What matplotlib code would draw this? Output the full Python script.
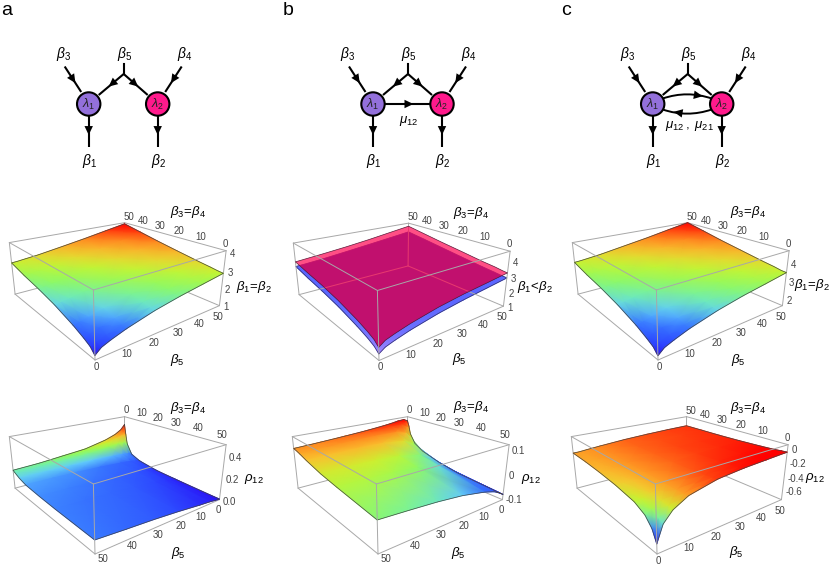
import matplotlib
matplotlib.use('Agg')
import matplotlib.pyplot as plt
import numpy as np
from matplotlib.colors import LinearSegmentedColormap
from matplotlib.patches import Circle, FancyArrowPatch, Polygon
from mpl_toolkits.mplot3d import proj3d

plt.rcParams['font.family'] = ['Liberation Sans', 'DejaVu Sans']
plt.rcParams['mathtext.fontset'] = 'custom'
plt.rcParams['mathtext.rm'] = 'Liberation Sans'
plt.rcParams['mathtext.it'] = 'Liberation Sans:italic'
plt.rcParams['mathtext.bf'] = 'Liberation Sans:bold'

# grid nodes of the surfaces, rows are beta3=beta4, columns are beta5
beta5_a = [0, 2, 5, 10, 20, 30, 40, 50]
beta3_a = [0, 2, 5, 10, 20, 30, 40, 50]
beta3_r = [0, 1, 2, 5, 10, 20, 30, 50]
axis_ticks = [0, 10, 20, 30, 40, 50]

beta_a = [
    [1.20, 1.45, 1.62, 1.85, 2.20, 2.45, 2.65, 2.85],
    [1.45, 1.58, 1.73, 1.93, 2.26, 2.50, 2.70, 2.88],
    [1.62, 1.73, 1.85, 2.03, 2.33, 2.57, 2.76, 2.95],
    [1.85, 1.93, 2.03, 2.20, 2.45, 2.65, 2.85, 3.05],
    [2.20, 2.26, 2.33, 2.45, 2.65, 2.85, 3.05, 3.27],
    [2.45, 2.50, 2.57, 2.65, 2.85, 3.05, 3.27, 3.50],
    [2.65, 2.70, 2.76, 2.85, 3.05, 3.27, 3.50, 3.75],
    [2.90, 2.92, 2.97, 3.05, 3.27, 3.50, 3.75, 4.00],
]
beta_b_low = [
    [1.37, 1.60, 1.76, 1.98, 2.31, 2.55, 2.74, 2.93],
    [1.60, 1.73, 1.87, 2.06, 2.37, 2.59, 2.78, 2.96],
    [1.78, 1.88, 1.99, 2.15, 2.43, 2.66, 2.84, 3.02],
    [2.00, 2.07, 2.17, 2.32, 2.55, 2.74, 2.93, 3.11],
    [2.35, 2.40, 2.47, 2.58, 2.76, 2.93, 3.11, 3.31],
    [2.60, 2.64, 2.71, 2.78, 2.95, 3.12, 3.31, 3.52],
    [2.80, 2.84, 2.90, 2.97, 3.14, 3.33, 3.52, 3.73],
    [3.04, 3.06, 3.10, 3.17, 3.35, 3.54, 3.73, 3.93],
]
beta_b_high = [
    [1.73, 1.97, 2.13, 2.35, 2.68, 2.91, 3.08, 3.26],
    [1.97, 2.10, 2.24, 2.43, 2.74, 2.96, 3.13, 3.30],
    [2.15, 2.25, 2.36, 2.52, 2.80, 3.03, 3.20, 3.38],
    [2.38, 2.45, 2.55, 2.70, 2.92, 3.11, 3.29, 3.47],
    [2.73, 2.78, 2.85, 2.96, 3.13, 3.29, 3.48, 3.70],
    [2.98, 3.02, 3.09, 3.16, 3.32, 3.49, 3.70, 3.92],
    [3.16, 3.20, 3.26, 3.34, 3.50, 3.70, 3.92, 4.16],
    [3.37, 3.40, 3.45, 3.53, 3.71, 3.92, 4.16, 4.40],
]
beta_c = [
    [1.80, 2.05, 2.22, 2.46, 2.81, 3.07, 3.27, 3.48],
    [2.05, 2.19, 2.34, 2.54, 2.88, 3.12, 3.32, 3.50],
    [2.22, 2.34, 2.46, 2.65, 2.95, 3.19, 3.39, 3.58],
    [2.46, 2.54, 2.65, 2.81, 3.07, 3.27, 3.48, 3.68],
    [2.81, 2.88, 2.95, 3.07, 3.27, 3.48, 3.68, 3.91],
    [3.07, 3.12, 3.19, 3.27, 3.48, 3.68, 3.91, 4.14],
    [3.27, 3.32, 3.39, 3.48, 3.68, 3.91, 4.14, 4.40],
    [3.52, 3.54, 3.59, 3.68, 3.91, 4.14, 4.40, 4.65],
]
rho_a = [
    [0.410, 0.360, 0.320, 0.280, 0.230, 0.210, 0.190, 0.180],
    [0.300, 0.300, 0.280, 0.250, 0.215, 0.200, 0.185, 0.172],
    [0.200, 0.220, 0.225, 0.210, 0.190, 0.180, 0.172, 0.165],
    [0.100, 0.115, 0.125, 0.130, 0.140, 0.142, 0.144, 0.145],
    [0.060, 0.070, 0.080, 0.090, 0.105, 0.115, 0.120, 0.125],
    [0.030, 0.040, 0.055, 0.070, 0.085, 0.100, 0.110, 0.115],
    [0.020, 0.030, 0.040, 0.055, 0.075, 0.090, 0.100, 0.110],
    [0.005, 0.010, 0.020, 0.030, 0.055, 0.075, 0.090, 0.107],
]
rho_b = [
    [0.095, 0.105, 0.103, 0.095, 0.085, 0.078, 0.072, 0.067],
    [0.070, 0.092, 0.098, 0.092, 0.083, 0.077, 0.071, 0.066],
    [0.035, 0.072, 0.088, 0.087, 0.080, 0.075, 0.070, 0.065],
    [-0.005, 0.025, 0.055, 0.068, 0.070, 0.068, 0.064, 0.060],
    [-0.030, -0.010, 0.018, 0.040, 0.052, 0.054, 0.052, 0.050],
    [-0.055, -0.040, -0.018, 0.005, 0.025, 0.032, 0.034, 0.034],
    [-0.070, -0.055, -0.035, -0.012, 0.010, 0.019, 0.023, 0.024],
    [-0.083, -0.070, -0.055, -0.040, -0.020, -0.008, 0.000, 0.007],
]
rho_c = [
    [-0.62, -0.42, -0.30, -0.20, -0.12, -0.09, -0.075, -0.06],
    [-0.48, -0.38, -0.28, -0.20, -0.125, -0.095, -0.08, -0.065],
    [-0.38, -0.33, -0.27, -0.20, -0.13, -0.10, -0.085, -0.075],
    [-0.31, -0.29, -0.25, -0.20, -0.14, -0.11, -0.095, -0.085],
    [-0.26, -0.25, -0.23, -0.19, -0.15, -0.125, -0.11, -0.10],
    [-0.23, -0.225, -0.21, -0.185, -0.15, -0.13, -0.12, -0.11],
    [-0.21, -0.21, -0.20, -0.18, -0.15, -0.135, -0.125, -0.115],
    [-0.20, -0.20, -0.19, -0.175, -0.15, -0.135, -0.125, -0.12],
]

rainbow = LinearSegmentedColormap.from_list('rainbow_like', [
    (0.00, '#2a10f5'), (0.10, '#2b40ff'), (0.25, '#3878ff'), (0.33, '#60c8ff'),
    (0.42, '#70f0b0'), (0.50, '#90fa60'), (0.60, '#c8f430'), (0.70, '#f8c830'),
    (0.82, '#ff8a20'), (1.00, '#ff0000')])
violet_blue = LinearSegmentedColormap.from_list('violet_blue', ['#a888ff', '#6a70ff', '#5a66ff'])

W, H = 830, 566
fig = plt.figure(figsize=(W / 100, H / 100), dpi=100)

# hidden 3d axes, only used for its camera, its size sets the scale of the boxes
cam_px = 213
cam = fig.add_axes([0.3, 0.3, cam_px / W, cam_px / H], projection='3d')
cam.set_axis_off()
cam.set_xlim(0, 1)
cam.set_ylim(0, 1)
cam.set_zlim(0, 1)
cam.set_box_aspect((1, 1, 0.38), zoom=1.0)
cam.set_proj_type('persp', focal_length=0.30)
cam.view_init(elev=21, azim=-127.5)
fig.canvas.draw()
cam_M = cam.get_proj()

ax = fig.add_axes([0, 0, 1, 1], zorder=5)
ax.set_xlim(0, W)
ax.set_ylim(H, 0)
ax.set_axis_off()
ax.patch.set_alpha(0)


def project(u, v, w):
    shape = np.broadcast(u, v, w).shape
    u, v, w = [np.broadcast_to(np.asarray(a, float), shape).ravel() for a in (u, v, w)]
    x2, y2, _ = proj3d.proj_transform(u, v, w, cam_M)
    pts = cam.transData.transform(np.c_[x2, y2])
    return pts[:, 0].reshape(shape), H - pts[:, 1].reshape(shape)


x00, y00 = project(0.0, 0.0, 0.0)


def to_px(u, v, w, anchor):
    x, y = project(u, v, w)
    return x - x00 + anchor[0], y - y00 + anchor[1]


def box_edge(p, q, anchor, z=1):
    x, y = to_px([p[0], q[0]], [p[1], q[1]], [p[2], q[2]], anchor)
    ax.plot(x, y, color='#a8a8a8', lw=0.7, zorder=z, solid_capstyle='round')


def draw_box(anchor, z_back=1, z_front=6):
    for p, q in [((0, 0, 0), (1, 0, 0)), ((0, 0, 0), (0, 1, 0)), ((1, 0, 0), (1, 1, 0)), ((0, 1, 0), (1, 1, 0)),
                 ((1, 1, 0), (1, 1, 1)), ((1, 0, 0), (1, 0, 1)), ((0, 1, 0), (0, 1, 1)),
                 ((1, 0, 1), (1, 1, 1)), ((0, 1, 1), (1, 1, 1))]:
        box_edge(p, q, anchor, z_back)
    for p, q in [((0, 0, 0), (0, 0, 1)), ((0, 0, 1), (1, 0, 1)), ((0, 0, 1), (0, 1, 1))]:
        box_edge(p, q, anchor, z_front)


def surface_px(zvals, b5, b3, zlim, flip, anchor):
    b5g, b3g = np.meshgrid(b5, b3)
    if flip:
        u, v = (50 - b5g) / 50, (50 - b3g) / 50
    else:
        u, v = b5g / 50, b3g / 50
    w = (np.array(zvals) - zlim[0]) / (zlim[1] - zlim[0])
    return to_px(u, v, w, anchor)


def outline(x, y):
    return np.r_[x[0, :], x[:, -1], x[-1, ::-1], x[::-1, 0]], np.r_[y[0, :], y[:, -1], y[-1, ::-1], y[::-1, 0]]


def draw_surface(zvals, b5, b3, zlim, flip, anchor, vmax=None):
    x, y = surface_px(zvals, b5, b3, zlim, flip, anchor)
    z = np.array(zvals)
    ax.pcolormesh(x, y, z, shading='gouraud', cmap=rainbow, vmin=z.min(), vmax=z.max() if vmax is None else vmax, zorder=3)
    ox, oy = outline(x, y)
    ax.plot(ox, oy, color='#444444', lw=0.5, zorder=4)


def draw_ticks(anchor, flip, zlim, zticks, zlabels):
    t = np.array(axis_ticks) / 50
    for tv, val in zip(t, axis_ticks):
        # beta5 along the lower right edge
        u = 1 - tv if flip else tv
        x, y = to_px(u, 0.0, 0.0, anchor)
        dx, dy = (8 - 9 * u, 5 + 5 * u) if flip else (1 - 2 * u, 7 + 4 * u)
        ax.text(x + dx, y + dy, str(val), fontsize=7, color='#444444', ha='center', va='center')
        # beta3 along the upper back right edge
        v = 1 - tv if flip else tv
        x, y = to_px(1.0, v, 1.0, anchor)
        dx, dy = (-4 + 6 * v, -10 + 3 * v) if flip else (-1 + 5 * v, -7 + v)
        ax.text(x + dx, y + dy, str(val), fontsize=7, color='#444444', ha='center', va='center')
    for zt, zl in zip(zticks, zlabels):
        x, y = to_px(1.0, 0.0, (zt - zlim[0]) / (zlim[1] - zlim[0]), anchor)
        ax.text(x + 3.5, y + 2, zl, fontsize=7, color='#444444', ha='left', va='center')


def head(p, m):
    ax.add_patch(FancyArrowPatch(p, m, arrowstyle='-|>,head_length=4,head_width=1.9', color='black', lw=0,
                                 shrinkA=0, shrinkB=0, mutation_scale=1.6, zorder=2))


def arrow(p, q, frac=0.6):
    p, q = np.array(p, float), np.array(q, float)
    ax.plot([p[0], q[0]], [p[1], q[1]], color='black', lw=1.5, zorder=2, solid_capstyle='butt')
    head(p, p + (q - p) * frac)


def diagram(x0, mode):
    cy = 104
    x1, x2 = x0, x0 + 69
    mid = x0 + 35
    arrow((x1 - 24, 66.5), (x1 - 7.5, 92), 0.65)
    arrow((x2 + 24, 66.5), (x2 + 7.5, 92), 0.65)
    ax.plot([mid, mid], [64, 74], color='black', lw=1.5, zorder=2)
    arrow((mid, 74), (x1 + 10, 95), 0.6)
    arrow((mid, 74), (x2 - 10, 95), 0.6)
    arrow((x1, cy), (x1, 147), 0.72)
    arrow((x2, cy), (x2, 147), 0.72)
    if mode == 'b':
        arrow((x1 + 10, cy), (x2 - 10, cy), 0.62)
        ax.text(mid + 1, 121, r'$\mu_{12}$', fontsize=9.5, ha='center', va='center')
    if mode == 'c':
        ax.add_patch(FancyArrowPatch((x1 + 10, 98.5), (x2 - 10, 98.5), connectionstyle='arc3,rad=-0.17', arrowstyle='-',
                                     color='black', lw=1.4, shrinkA=0, shrinkB=0, zorder=2))
        ax.add_patch(FancyArrowPatch((x2 - 10, 109.5), (x1 + 10, 109.5), connectionstyle='arc3,rad=-0.17', arrowstyle='-',
                                     color='black', lw=1.4, shrinkA=0, shrinkB=0, zorder=2))
        head((mid + 5, 94.6), (mid + 15, 96.2))
        head((mid - 5, 113.4), (mid - 14, 111.8))
        ax.text(mid + 1.5, 126, r'$\mu_{12}\,,\ \mu_{21}$', fontsize=9.5, ha='center', va='center')
    ax.add_patch(Circle((x1, cy), 11.7, fc='#9370db', ec='black', lw=1.5, zorder=3))
    ax.add_patch(Circle((x2, cy), 11.7, fc='#ff1a8c', ec='black', lw=1.5, zorder=3))
    ax.text(x1, cy, r'$\lambda_1$', fontsize=9, ha='center', va='center', zorder=4, color='#222222')
    ax.text(x2, cy, r'$\lambda_2$', fontsize=9, ha='center', va='center', zorder=4, color='#222222')
    for lab, lx, ly in [(r'$\beta_3$', x1 - 25.5, 54), (r'$\beta_5$', mid + 1, 54), (r'$\beta_4$', x2 + 26.5, 54),
                        (r'$\beta_1$', x1 + 1, 161), (r'$\beta_2$', x2 + 1, 161)]:
        ax.text(lx, ly, lab, fontsize=10, ha='center', va='center')


# top row, letters and circuit diagrams
for letter, lx in [('a', 1), ('b', 283), ('c', 561)]:
    ax.text(lx, 10.5, letter, fontsize=14, ha='left', va='center')
diagram(88.7, 'a')
diagram(373, 'b')
diagram(652.7, 'c')

# middle row
anchor = (95, 360)
zl = (0.98, 4.08)
draw_box(anchor)
draw_surface(beta_a, beta5_a, beta3_a, zl, False, anchor)
draw_ticks(anchor, False, zl, [1, 2, 3, 4], ['1', '2', '3', '4'])

anchor = (379, 360.5)
zl = (1.0, 4.65)
xl, yl = surface_px(beta_b_low, beta5_a, beta3_a, zl, False, anchor)
ax.pcolormesh(xl, yl, np.array(beta_b_low), shading='gouraud', cmap=violet_blue, vmin=1.37, vmax=2.6, zorder=1.5)
olx, oly = outline(xl, yl)
ax.plot(olx, oly, color='#333366', lw=0.5, zorder=1.6)
xh, yh = surface_px(beta_b_high, beta5_a, beta3_a, zl, False, anchor)
ox, oy = outline(xh, yh)
# where the two sheets overlap the colour is much darker
dark = Polygon(np.c_[olx, oly], closed=True, fc='#140eaa', ec='none', zorder=1.8)
ax.add_patch(dark)
dark.set_clip_path(Polygon(np.c_[ox, oy], closed=True, transform=ax.transData))
draw_box(anchor, z_back=2)
ax.add_patch(Polygon(np.c_[ox, oy], closed=True, fc='#ff125a', ec='none', alpha=0.74, zorder=3))
ax.plot(ox, oy, color='#5a1838', lw=0.5, zorder=4)
draw_ticks(anchor, False, zl, [1, 2, 3, 4], ['1', '2', '3', '4'])

anchor = (658, 360)
zl = (1.6, 4.65)
draw_box(anchor)
draw_surface(beta_c, beta5_a, beta3_a, zl, False, anchor)
draw_ticks(anchor, False, zl, [2, 3, 4], ['2', '3', '4'])

# bottom row
anchor = (95, 554)
zl = (0.0, 0.5)
draw_box(anchor)
draw_surface(rho_a, beta5_a, beta3_r, zl, True, anchor)
draw_ticks(anchor, True, zl, [0.0, 0.2, 0.4], ['0.0', '0.2', '0.4'])

anchor = (378, 554)
zl = (-0.105, 0.116)
draw_box(anchor)
draw_surface(rho_b, beta5_a, beta3_r, zl, True, anchor)
draw_ticks(anchor, True, zl, [-0.1, 0.0, 0.1], ['-0.1', '0', '0.1'])

anchor = (657, 554)
zl = (-0.74, 0.04)
draw_box(anchor)
draw_surface(rho_c, beta5_a, beta3_a, zl, False, anchor, vmax=-0.08)
draw_ticks(anchor, False, zl, [0.0, -0.2, -0.4, -0.6], ['0', '-0.2', '-0.4', '-0.6'])

# axis titles
titles = [
    (r'$\beta_3\!=\!\beta_4$', 188, 212), (r'$\beta_1\!=\!\beta_2$', 254, 287), (r'$\beta_5$', 177, 360),
    (r'$\beta_3\!=\!\beta_4$', 471, 213), (r'$\beta_1\!<\!\beta_2$', 535, 287), (r'$\beta_5$', 459, 359),
    (r'$\beta_3\!=\!\beta_4$', 748, 212), (r'$\beta_1\!=\!\beta_2$', 812.5, 285), (r'$\beta_5$', 738, 360),
    (r'$\beta_3\!=\!\beta_4$', 188, 408), (r'$\rho_{12}$', 254, 479), (r'$\beta_5$', 178, 553),
    (r'$\beta_3\!=\!\beta_4$', 471, 407), (r'$\rho_{12}$', 531, 479), (r'$\beta_5$', 458, 553),
    (r'$\beta_3\!=\!\beta_4$', 748, 408), (r'$\rho_{12}$', 815, 478), (r'$\beta_5$', 736, 552),
]
for lab, tx, ty in titles:
    ax.text(tx, ty, lab, fontsize=9.5, ha='center', va='center', zorder=7)

fig.savefig('out.png', dpi=100)
